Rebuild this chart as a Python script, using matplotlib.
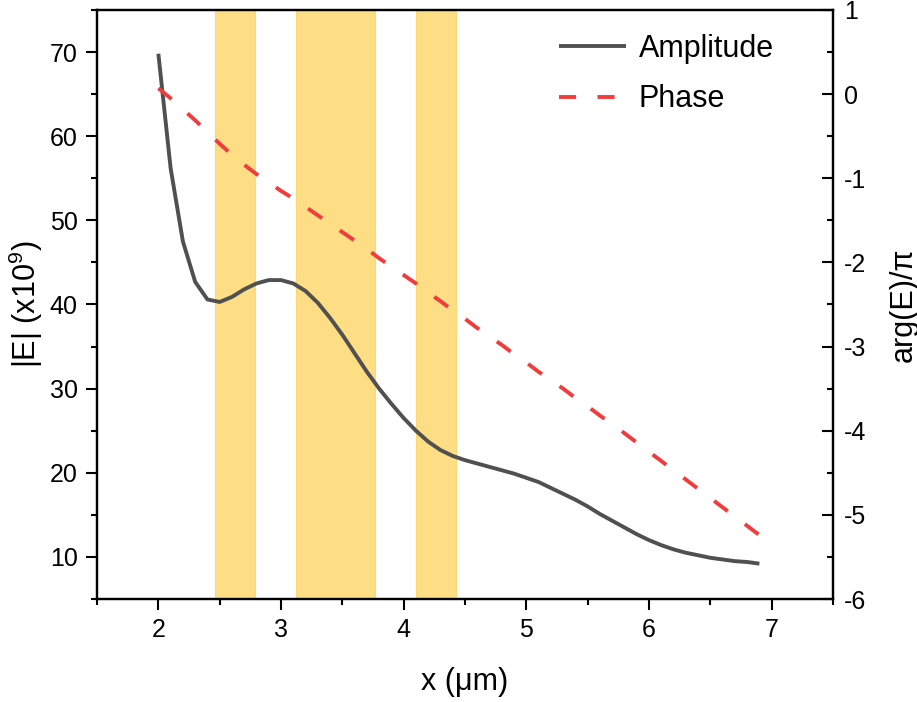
import numpy as np
import matplotlib
matplotlib.use("Agg")
import matplotlib.pyplot as plt
from matplotlib.ticker import MultipleLocator

plt.rcParams['font.family'] = ['Liberation Sans', 'DejaVu Sans']
plt.rcParams['mathtext.fontset'] = 'custom'
plt.rcParams['mathtext.rm'] = 'Liberation Sans'
plt.rcParams['mathtext.it'] = 'Liberation Sans'
plt.rcParams['axes.unicode_minus'] = False

# Position along the structure (um)
x_um = [2.0, 2.1, 2.2, 2.3, 2.4, 2.5, 2.6, 2.7, 2.8, 2.9,
        3.0, 3.1, 3.2, 3.3, 3.4, 3.5, 3.6, 3.7, 3.8, 3.9,
        4.0, 4.1, 4.2, 4.3, 4.4, 4.5, 4.6, 4.7, 4.8, 4.9,
        5.0, 5.1, 5.2, 5.3, 5.4, 5.5, 5.6, 5.7, 5.8, 5.9,
        6.0, 6.1, 6.2, 6.3, 6.4, 6.5, 6.6, 6.7, 6.8, 6.9]

# Field amplitude |E| (x1e9)
amplitude = [69.8, 56.2, 47.5, 42.7, 40.6, 40.3, 40.9, 41.8, 42.5, 42.9,
             42.9, 42.5, 41.6, 40.2, 38.4, 36.4, 34.2, 32.0, 30.0, 28.2,
             26.5, 25.0, 23.7, 22.7, 22.0, 21.5, 21.1, 20.7, 20.3, 19.9,
             19.4, 18.9, 18.2, 17.5, 16.8, 16.0, 15.1, 14.3, 13.5, 12.7,
             12.0, 11.4, 10.9, 10.5, 10.2, 9.9, 9.7, 9.5, 9.4, 9.2]

# Unwrapped phase arg(E)/pi
phase = [0.07, -0.05, -0.18, -0.31, -0.45, -0.59, -0.72, -0.84, -0.95, -1.05,
         -1.15, -1.24, -1.34, -1.44, -1.54, -1.64, -1.74, -1.84, -1.95, -2.05,
         -2.15, -2.25, -2.36, -2.46, -2.57, -2.67, -2.78, -2.88, -2.98, -3.09,
         -3.19, -3.30, -3.40, -3.50, -3.61, -3.71, -3.82, -3.92, -4.03, -4.14,
         -4.25, -4.36, -4.47, -4.58, -4.69, -4.80, -4.91, -5.02, -5.13, -5.24]

# Highlighted regions (um)
band_start = [2.46, 3.12, 4.10]
band_end = [2.79, 3.77, 4.43]

fig = plt.figure(figsize=(9.17, 7.02), dpi=100)
ax1 = fig.add_axes([0.1058, 0.1467, 0.8026, 0.8391])
ax2 = ax1.twinx()

for s, e in zip(band_start, band_end):
    ax1.axvspan(s, e, facecolor='#FEDE84', edgecolor='#FBD870', linewidth=0.8, zorder=0)

l1, = ax1.plot(x_um, amplitude, color='#505050', linewidth=2.8,
               solid_capstyle='butt', solid_joinstyle='round', label='Amplitude', zorder=3)
l2, = ax2.plot(x_um, phase, color='#F03C3C', linewidth=2.8, dashes=(4.4, 5.5),
               dash_capstyle='butt', label='Phase', zorder=3)

ax1.set_xlim(1.5, 7.5)
ax1.set_ylim(5, 75)
ax2.set_ylim(-6, 1)

ax1.xaxis.set_major_locator(MultipleLocator(1))
ax1.xaxis.set_minor_locator(MultipleLocator(0.5))
ax1.yaxis.set_major_locator(MultipleLocator(10))
ax1.yaxis.set_minor_locator(MultipleLocator(5))
ax2.yaxis.set_major_locator(MultipleLocator(1))
ax2.yaxis.set_minor_locator(MultipleLocator(0.5))

for sp in ax1.spines.values():
    sp.set_linewidth(1.6)
for sp in ax2.spines.values():
    sp.set_linewidth(1.6)

ax1.tick_params(axis='both', which='major', direction='out', length=8, width=1.5,
                labelsize=18, pad=6, top=False, right=False)
ax1.tick_params(axis='both', which='minor', direction='out', length=4, width=1.5,
                top=False, right=False)
ax2.tick_params(axis='y', which='major', direction='in', length=8, width=1.5,
                labelsize=18, pad=8)
ax2.tick_params(axis='y', which='minor', direction='in', length=4, width=1.5)

ax1.set_xlabel('x (\u03bcm)', fontsize=22, labelpad=18)
ax1.set_ylabel('|E| (x10$^{9}$)', fontsize=22, labelpad=3)
ax2.set_ylabel('arg(E)/\u03c0', fontsize=22, labelpad=16)

leg = ax2.legend(handles=[l1, l2], loc='upper left', bbox_to_anchor=(0.628, 0.96),
                 frameon=False, fontsize=22, handlelength=2.2, handletextpad=0.4,
                 labelspacing=0.68, borderpad=0, borderaxespad=0)

fig.savefig('out.png', dpi=100)
